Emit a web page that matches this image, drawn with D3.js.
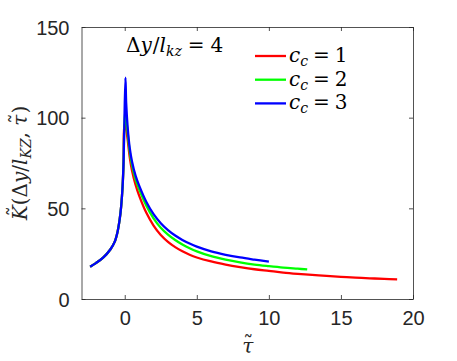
<!DOCTYPE html>
<html>
<head>
<meta charset="utf-8">
<script src="https://cdn.jsdelivr.net/npm/d3@7"></script>
<style>
  body { margin: 0; background: #fff; }
  svg { display: block; }
</style>
</head>
<body>
<div id="chart"></div>
<script>
// shared rising branch (same for all c_c)
const tauLeft = [-2.4, -2, -1.5, -1, -0.7, -0.5, -0.35, -0.25, -0.15, -0.08, -0.03];
const kLeft = [17.8, 19.8, 22.8, 27.3, 31.5, 37, 44, 51, 62, 76, 95];

const tauBlue = [0.05, 0.1, 0.2, 0.35, 0.5, 0.75, 1, 1.5, 2, 2.5, 3, 3.5, 4, 4.5, 5, 6, 7, 8, 9, 10];
const kBlue = [122, 108, 95, 83, 76, 68, 62.5, 53.5, 46.8, 41.8, 38, 35, 32.6, 30.6, 28.9, 26.3, 24.4, 22.9, 21.7, 20.6];

const tauGreen = [0.05, 0.1, 0.2, 0.35, 0.5, 0.75, 1, 1.5, 2, 2.5, 3, 3.5, 4, 4.5, 5, 6, 7, 8, 9, 10, 11, 12, 12.66];
const kGreen = [105, 100, 92, 81, 74, 66, 60.5, 51.5, 44.5, 39.3, 35.5, 32.5, 30, 28, 26.3, 23.6, 21.7, 20.2, 19, 18.1, 17.3, 16.7, 16.3];

const tauRed = [0.05, 0.1, 0.2, 0.35, 0.5, 0.75, 1, 1.5, 2, 2.5, 3, 3.5, 4, 4.5, 5, 6, 7, 8, 9, 10, 11, 12, 13, 14, 15, 16, 17, 18, 18.9];
const kRed = [97, 94, 88, 78, 71, 63, 57, 47.5, 40.5, 35.3, 31.5, 28.6, 26.3, 24.4, 22.9, 20.7, 19, 17.6, 16.4, 15.5, 14.6, 13.9, 13.3, 12.7, 12.2, 11.8, 11.4, 11.1, 10.8];

const seriesNames = ["1", "2", "3"];
const seriesColors = ["#ff0000", "#00ff00", "#0000ff"];
const xTicks = [0, 5, 10, 15, 20];
const yTicks = [0, 50, 100, 150];

const width = 457, height = 361;
const margin = { left: 81.5, right: 44, top: 27, bottom: 62 };

const svg = d3.select("#chart").append("svg")
  .attr("width", width)
  .attr("height", height);

const x = d3.scaleLinear().domain([-3, 20]).range([margin.left, width - margin.right]);
const y = d3.scaleLinear().domain([0, 150]).range([height - margin.bottom, margin.top]);

const toPts = (t, k) => t.map((d, i) => ({ t: d, k: k[i] }));
const series = [
  toPts(tauLeft.concat(tauRed), kLeft.concat(kRed)),
  toPts(tauLeft.concat(tauGreen), kLeft.concat(kGreen)),
  toPts(tauLeft.concat(tauBlue), kLeft.concat(kBlue))
];

const axisColor = "#262626";
const font = "'Liberation Sans', Arial, sans-serif";
const serif = "'DejaVu Serif', 'Liberation Serif', serif";

// axes (ticks inside, like matlab)
const gx = svg.append("g")
  .attr("transform", `translate(0,${y(0)})`)
  .call(d3.axisBottom(x).tickValues(xTicks).tickSizeInner(-4).tickSizeOuter(0).tickPadding(12));
const gxTop = svg.append("g")
  .attr("transform", `translate(0,${y(150)})`)
  .call(d3.axisTop(x).tickValues(xTicks).tickSizeInner(-4).tickSizeOuter(0).tickFormat(""));
const gy = svg.append("g")
  .attr("transform", `translate(${x(-3)},0)`)
  .call(d3.axisLeft(y).tickValues(yTicks).tickSizeInner(-4).tickSizeOuter(0).tickPadding(12));
const gyRight = svg.append("g")
  .attr("transform", `translate(${x(20)},0)`)
  .call(d3.axisRight(y).tickValues(yTicks).tickSizeInner(-4).tickSizeOuter(0).tickFormat(""));

[gx, gxTop, gy, gyRight].forEach(g => {
  g.attr("font-family", null).attr("font-size", null);
  g.select(".domain").attr("stroke", axisColor).attr("stroke-width", 0.8);
  g.selectAll(".tick line").attr("stroke", axisColor).attr("stroke-width", 0.8);
  g.selectAll(".tick text")
    .attr("fill", axisColor)
    .style("font-family", font)
    .style("font-size", "20px");
});
gx.selectAll(".tick text").attr("dy", "0.71em");
gy.selectAll(".tick text").attr("dy", "0.36em");

// curves
const line = d3.line()
  .x(d => x(d.t))
  .y(d => y(d.k))
  .curve(d3.curveCatmullRom.alpha(0.5));

svg.append("g").selectAll("path")
  .data(series)
  .join("path")
  .attr("d", line)
  .attr("fill", "none")
  .attr("stroke", (d, i) => seriesColors[i])
  .attr("stroke-width", 2.3)
  .attr("stroke-linejoin", "round")
  .attr("stroke-linecap", "butt");

// annotation  Δy/l_kz = 4
const ann = svg.append("text")
  .attr("x", 126)
  .attr("y", 52)
  .style("font-family", serif)
  .style("font-size", "20px")
  .attr("fill", "#000");
ann.append("tspan").text("Δ");
ann.append("tspan").style("font-style", "italic").text("y");
ann.append("tspan").attr("dx", 1).text("/");
ann.append("tspan").style("font-style", "italic").text("l");
ann.append("tspan").style("font-style", "italic").style("font-size", "14px").attr("dy", 4).text("kz");
ann.append("tspan").attr("dx", 6).attr("dy", -4).text("=");
ann.append("tspan").attr("dx", 6).text("4");

// legend
const legend = svg.append("g");
seriesNames.forEach((name, i) => {
  const ly = 56 + i * 23.7;
  legend.append("line")
    .attr("x1", 255).attr("x2", 286)
    .attr("y1", ly).attr("y2", ly)
    .attr("stroke", seriesColors[i])
    .attr("stroke-width", 2.3);
  const t = legend.append("text")
    .attr("x", 289)
    .attr("y", ly + 6)
    .style("font-family", serif)
    .style("font-size", "20px")
    .attr("fill", "#000");
  t.append("tspan").style("font-style", "italic").text("c");
  t.append("tspan").style("font-style", "italic").style("font-size", "14px").attr("dy", 4).text("c");
  t.append("tspan").attr("dx", 5).attr("dy", -4).text("=");
  t.append("tspan").attr("dx", 5).text(name);
});

// x label  τ with tilde (one text element)
const xl = svg.append("text")
  .attr("x", (margin.left + width - margin.right) / 2 - 5)
  .attr("y", 353)
  .style("font-family", serif)
  .style("font-size", "20px")
  .attr("fill", axisColor);
xl.append("tspan").style("font-style", "italic").text("τ");
xl.append("tspan").attr("dx", -10).attr("dy", -3).text("\u02DC");

// y label  K̃(Δy/l_KZ, τ̃)
const yl = svg.append("text")
  .attr("transform", `translate(27,${(y(0) + y(150)) / 2}) rotate(-90)`)
  .attr("text-anchor", "middle")
  .style("font-family", serif)
  .style("font-size", "20px")
  .attr("fill", axisColor);
yl.append("tspan").style("font-style", "italic").text("K");
yl.append("tspan").attr("dx", -11).attr("dy", -5).text("\u02DC");
yl.append("tspan").attr("dx", 1).attr("dy", 5).text("(Δ");
yl.append("tspan").style("font-style", "italic").text("y");
yl.append("tspan").text("/");
yl.append("tspan").style("font-style", "italic").text("l");
yl.append("tspan").style("font-style", "italic").style("font-size", "14px").attr("dy", 4).text("KZ");
yl.append("tspan").attr("dy", -4).text(", ");
yl.append("tspan").style("font-style", "italic").text("τ");
yl.append("tspan").attr("dx", -9).attr("dy", -3).text("\u02DC");
yl.append("tspan").attr("dx", 0).attr("dy", 3).text(")");
</script>
</body>
</html>
